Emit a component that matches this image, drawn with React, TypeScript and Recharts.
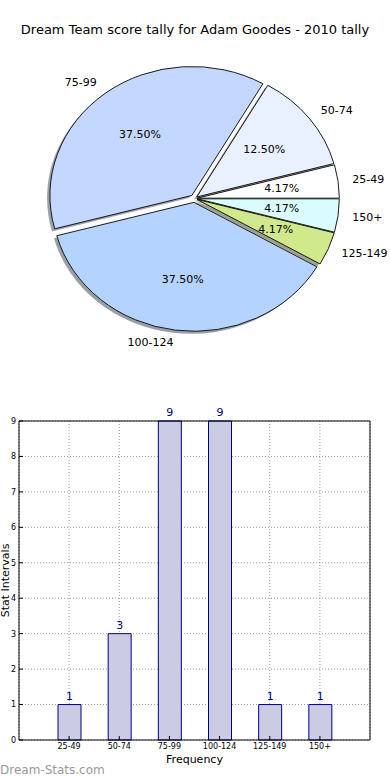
import React from 'react'
import {Bar, BarChart, CartesianGrid, Cell, LabelList, Pie, PieChart, XAxis, YAxis} from 'recharts'

const ranges = ['25-49', '50-74', '75-99', '100-124', '125-149', '150+']
const counts = [1, 3, 9, 9, 1, 1]
const pieColors = ['#ffffff', '#e9f0ff', '#c4d8ff', '#b4d4ff', '#d0e98b', '#dbfcff']
const explode = [0.02, 0.02, 0.03, 0.03, 0.02, 0.02]
const yTicks = [0, 1, 2, 3, 4, 5, 6, 7, 8, 9]

const font = 'DejaVu Sans, sans-serif'
const pieCx = 194.5
const pieCy = 198.5
const radius = 142
const squash = 0.908

const pieData = ranges.map((name, i) => ({name, value: counts[i]}))
const barData = ranges.map((range, i) => ({range, count: counts[i]}))

const total = counts.reduce((a, b) => a + b, 0)
const midAngles = counts.map((c, i) => {
    const before = counts.slice(0, i).reduce((a, b) => a + b, 0)
    return 360 * (before + c / 2) / total
})

const shade = (hex: string) => {
    const n = parseInt(hex.slice(1), 16)
    const r = Math.round(((n >> 16) & 255) * 0.3)
    const g = Math.round(((n >> 8) & 255) * 0.3)
    const b = Math.round((n & 255) * 0.3)
    return `rgb(${r},${g},${b})`
}

const sliceCenter = (i: number) => {
    const rad = midAngles[i] * Math.PI / 180
    return {
        x: pieCx + explode[i] * radius * Math.cos(rad),
        y: pieCy - explode[i] * radius * Math.sin(rad),
    }
}

const renderPieLabel = (props: any) => {
    const {cx, cy, midAngle, outerRadius, index, percent, name} = props
    const e = explode[index]
    const rad = midAngle * Math.PI / 180
    const cos = Math.cos(rad)
    const sin = Math.sin(rad)
    const ox = cx + e * outerRadius * cos
    const oy = cy - e * outerRadius * squash * sin
    return (
        <g>
            <text x={ox + 1.1 * outerRadius * cos} y={oy - 1.1 * outerRadius * squash * sin}
                  textAnchor={cos > 0 ? 'start' : 'end'} dominantBaseline='central'
                  fontSize={11} fontFamily={font} fill='#000'>{name}</text>
            <text x={ox + 0.6 * outerRadius * cos} y={oy - 0.6 * outerRadius * squash * sin}
                  textAnchor='middle' dominantBaseline='central'
                  fontSize={11} fontFamily={font} fill='#000'>{(percent * 100).toFixed(2)}%</text>
        </g>
    )
}

const YLabel = (props: any) => {
    const vb = props.viewBox
    const x = vb.x + 5
    const y = vb.y + vb.height / 2
    return (
        <text x={x} y={y} transform={`rotate(-90, ${x}, ${y})`} textAnchor='middle'
              dominantBaseline='central' fontSize={11} fontFamily={font} fill='#000'>
            Stat Intervals
        </text>
    )
}

const App = () => {
    return (
        <div style={{position: 'absolute', left: 0, top: 0, width: 390, height: 780, background: '#fff', fontFamily: font}}>
            {/* matplotlib drew the pie in non-equal axes, so squash the sectors into an ellipse */}
            <style>{`.squash path.recharts-sector { transform: scaleY(${squash}); transform-origin: 0px ${pieCy}px; }`}</style>
            <div style={{position: 'absolute', left: 0, top: 22, width: 390, textAlign: 'center', fontSize: 13, lineHeight: '16px', color: '#000'}}>
                Dream Team score tally for Adam Goodes - 2010 tally
            </div>
            <div style={{position: 'absolute', left: 0, top: 0}}>
                <PieChart width={390} height={390} margin={{top: 0, right: 0, bottom: 0, left: 0}}>
                    {ranges.map((r, i) => (
                        <Pie key={'s' + r} className='squash' data={pieData} dataKey='value' nameKey='name'
                             cx={sliceCenter(i).x - 2.84} cy={sliceCenter(i).y + 2.84}
                             outerRadius={radius} isAnimationActive={false}>
                            {pieData.map((d, j) => (
                                <Cell key={d.name} fill={j === i ? shade(pieColors[i]) : 'none'}
                                      fillOpacity={0.5} stroke='none'/>
                            ))}
                        </Pie>
                    ))}
                    {ranges.map((r, i) => (
                        <Pie key={'w' + r} className='squash' data={pieData} dataKey='value' nameKey='name'
                             cx={sliceCenter(i).x} cy={sliceCenter(i).y}
                             outerRadius={radius} isAnimationActive={false}>
                            {pieData.map((d, j) => (
                                <Cell key={d.name} fill={j === i ? pieColors[i] : 'none'}
                                      stroke={j === i ? '#111' : 'none'} strokeWidth={1}/>
                            ))}
                        </Pie>
                    ))}
                    <Pie data={pieData} dataKey='value' nameKey='name' cx={pieCx} cy={pieCy}
                         outerRadius={radius} isAnimationActive={false}
                         label={renderPieLabel} labelLine={false}>
                        {pieData.map(d => (
                            <Cell key={d.name} fill='none' stroke='none'/>
                        ))}
                    </Pie>
                </PieChart>
            </div>
            <div style={{position: 'absolute', left: 0, top: 400}}>
                <BarChart width={390} height={380} data={barData}
                          margin={{top: 20, right: 19, bottom: 15, left: 0}}>
                    <CartesianGrid stroke='#999' strokeDasharray='1 2'/>
                    <XAxis dataKey='range' padding={{left: 25, right: 25}} height={25}
                           tickSize={-4} tickMargin={7} interval={0}
                           tick={{fontSize: 8, fill: '#000', fontFamily: font}}
                           axisLine={{stroke: '#000'}} tickLine={{stroke: '#000'}}
                           label={{value: 'Frequency', position: 'insideBottom', offset: 2, fontSize: 11, fill: '#000', fontFamily: font}}/>
                    <XAxis xAxisId='top' orientation='top' dataKey='range' padding={{left: 25, right: 25}} height={1}
                           tickSize={-4} tick={false} interval={0}
                           axisLine={{stroke: '#000'}} tickLine={{stroke: '#000'}}/>
                    <YAxis domain={[0, 9]} ticks={yTicks} width={19} tickSize={-4} tickMargin={7}
                           tick={{fontSize: 8, fill: '#000', fontFamily: font}}
                           axisLine={{stroke: '#000'}} tickLine={{stroke: '#000'}}
                           label={{content: YLabel}}/>
                    <YAxis yAxisId='right' orientation='right' domain={[0, 9]} ticks={yTicks} width={1}
                           tickSize={-4} tick={false}
                           axisLine={{stroke: '#000'}} tickLine={{stroke: '#000'}}/>
                    <Bar dataKey='count' fill='#cbcbe3' stroke='#000088' strokeWidth={1} barSize={23}
                         isAnimationActive={false}>
                        <LabelList dataKey='count' position='top' offset={5} fill='#000088'
                                   fontSize={11} fontFamily={font}/>
                    </Bar>
                </BarChart>
            </div>
            <div style={{position: 'absolute', left: 0, top: 763, fontSize: 12, lineHeight: '14px', color: '#999'}}>
                Dream-Stats.com
            </div>
        </div>
    )
}

export default App
